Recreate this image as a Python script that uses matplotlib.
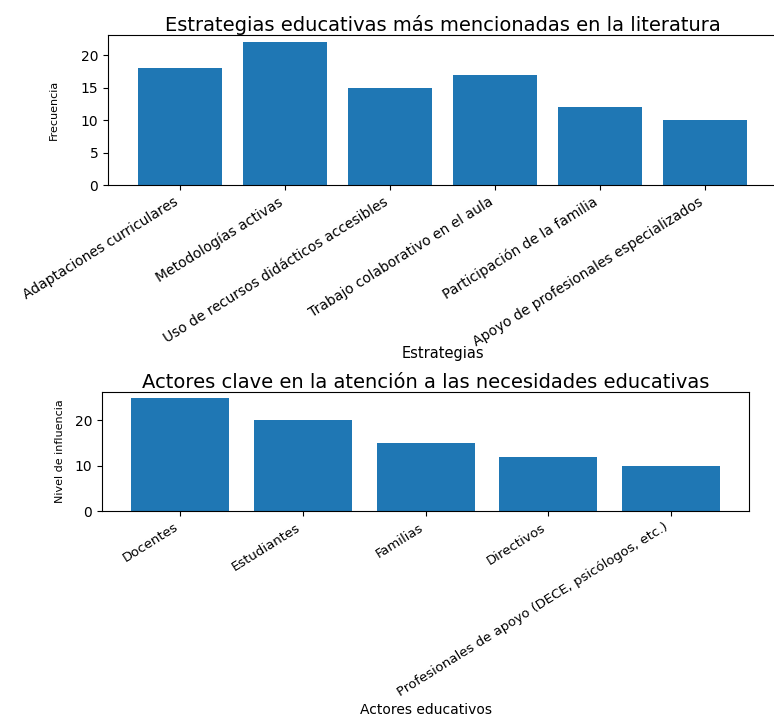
import matplotlib
matplotlib.use("Agg")
import matplotlib.pyplot as plt

# --- Data ---
estrategias = [
    "Adaptaciones curriculares",
    "Metodologías activas",
    "Uso de recursos didácticos accesibles",
    "Trabajo colaborativo en el aula",
    "Participación de la familia",
    "Apoyo de profesionales especializados",
]
frecuencia = [18, 22, 15, 17, 12, 10]

actores = [
    "Docentes",
    "Estudiantes",
    "Familias",
    "Directivos",
    "Profesionales de apoyo (DECE, psicólogos, etc.)",
]
influencia = [25, 20, 15, 12, 10]

fig = plt.figure(figsize=(7.74, 7.18), dpi=100)

# --- Top: strategies ---
ax1 = fig.add_axes([0.1395, 0.7423, 0.8656, 0.2089])
ax1.bar(estrategias, frecuencia, color="#1f77b4")
ax1.set_title("Estrategias educativas más mencionadas en la literatura",
              fontsize=14, pad=3)
ax1.set_xlabel("Estrategias", fontsize=10.5)
ax1.set_ylabel("Frecuencia", fontsize=8)
ax1.xaxis.set_label_coords(0.5, -1.07)
ax1.yaxis.set_label_coords(-0.073, 0.5)
ax1.tick_params(axis="x", labelsize=10)
plt.setp(ax1.get_xticklabels(), rotation=32, ha="right")

# --- Bottom: actors ---
ax2 = fig.add_axes([0.1318, 0.2883, 0.836, 0.1657])
ax2.bar(actores, influencia, color="#1f77b4")
ax2.set_title("Actores clave en la atención a las necesidades educativas",
              fontsize=14, pad=3)
ax2.set_xlabel("Actores educativos", fontsize=10)
ax2.set_ylabel("Nivel de influencia", fontsize=8)
ax2.xaxis.set_label_coords(0.5, -1.615)
ax2.yaxis.set_label_coords(-0.057, 0.5)
ax2.tick_params(axis="x", labelsize=9.5)
plt.setp(ax2.get_xticklabels(), rotation=32, ha="right")

fig.savefig("out.png", dpi=100)
